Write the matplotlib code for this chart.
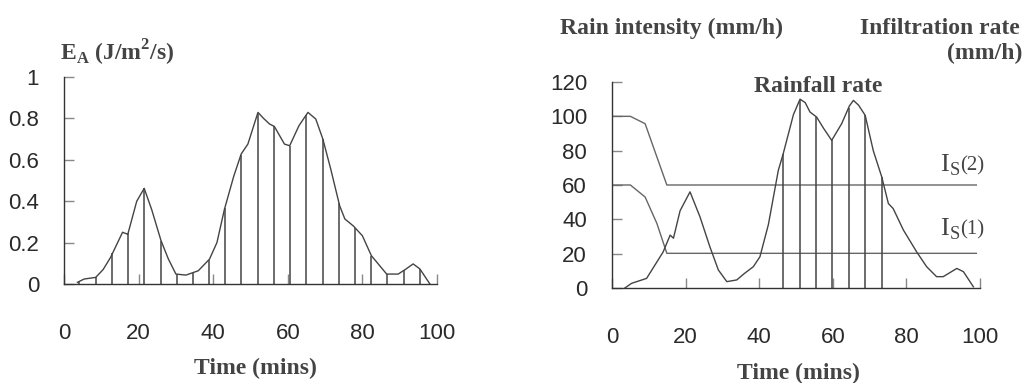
import matplotlib
matplotlib.use('Agg')
import matplotlib.pyplot as plt
import numpy as np

# left panel: kinetic energy of rain E_A
ea_time = [3.6, 5.4, 8.5, 10.5, 12.5, 15.7, 17.1, 19.5, 21.5, 23.5, 26, 28, 30, 32.7, 36, 39,
           41, 43, 45.5, 47.5, 49.3, 52, 53.5, 55.1, 56.4, 59.1, 60.5, 63, 65.4, 67.5, 69.4,
           71.5, 73.9, 75.3, 77.6, 80, 82.4, 86.5, 89.6, 91.5, 93.6, 95.4, 98.1]
ea_value = [0.008, 0.024, 0.032, 0.07, 0.129, 0.25, 0.24, 0.40, 0.462, 0.36, 0.21, 0.12, 0.048,
            0.043, 0.064, 0.12, 0.2, 0.36, 0.52, 0.628, 0.676, 0.829, 0.80, 0.773, 0.761, 0.676,
            0.668, 0.765, 0.829, 0.797, 0.70, 0.556, 0.378, 0.314, 0.28, 0.233, 0.137, 0.048,
            0.048, 0.07, 0.097, 0.073, 0.0]
ea_hatch = [4.0, 8.5, 13.0, 17.2, 21.5, 26, 30.3, 34.5, 38.8, 43.1, 47.4, 51.9, 56.4, 60.5,
            65, 69.4, 73.7, 78.1, 82.4, 86.7, 91.1, 95.4]

# right panel: rainfall rate and infiltration capacities
rain_time = [3.5, 5.3, 9.4, 13.9, 15.8, 16.7, 18.5, 21.2, 23.9, 26.6, 28.9, 31.2, 33.9, 36, 38.4,
             40.2, 42.5, 45.2, 46.5, 49.3, 51.1, 52.5, 53.8, 55.6, 57.5, 59.7, 62.4, 64.5, 65.6,
             67, 68.8, 71, 73.3, 75.1, 76.4, 79.2, 82.8, 85.5, 88.2, 90, 93.7, 95.5, 98.2]
rain_rate = [0, 2.7, 5.6, 21, 30.8, 29, 45, 56, 41.5, 24, 10.5, 3.7, 4.7, 8.5, 12.4,
             18.2, 37, 68.6, 78, 101, 110, 108, 102.5, 99.6, 93, 86, 95.7, 106, 109.3,
             106.5, 100.6, 80, 64.7, 49.2, 46.3, 33.7, 21, 12.4, 6.6, 6.6, 11.4, 9.5, 0.7]
rain_hatch = [46.5, 51, 55.5, 59.8, 64.3, 68.8, 73.3]

is2_time = [0, 5, 9, 14.9, 99]
is2_rate = [100, 100, 95.7, 60, 60]
is1_time = [0, 5, 9, 12.2, 14.9, 99]
is1_rate = [60, 60, 53, 37.6, 20.2, 20.2]

W, H = 1026, 383
fig = plt.figure(figsize=(W / 100, H / 100), dpi=100)

ink = '#333333'
serif = dict(family='Liberation Serif', weight='bold', color='#444444')
tickfont = 'Liberation Sans'


def style(ax, ylim, yticks, ylabels):
    for s in ['top', 'right']:
        ax.spines[s].set_visible(False)
    for s in ['left', 'bottom']:
        ax.spines[s].set_color(ink)
        ax.spines[s].set_linewidth(1.0)
    ax.set_xlim(0, 100)
    ax.set_ylim(*ylim)
    ax.set_xticks([0, 20, 40, 60, 80, 100])
    ax.set_yticks(yticks)
    ax.set_yticklabels(ylabels)
    ax.tick_params(axis='both', direction='in', length=7, width=1, color='#888888',
                   labelsize=16, labelcolor='#2a2a2a')
    ax.tick_params(axis='x', pad=28)
    ax.tick_params(axis='y', pad=18)
    for lab in ax.get_xticklabels() + ax.get_yticklabels():
        lab.set_fontfamily(tickfont)


# left panel
ax1 = fig.add_axes([64 / W, (H - 284) / H, (437 - 64) / W, (284 - 77) / H])
ax1.patch.set_alpha(0)
ax1.plot(ea_time, ea_value, color='#444444', lw=1.0)
ax1.vlines(ea_hatch, 0, np.interp(ea_hatch, ea_time, ea_value), color='#444444', lw=1.1)
style(ax1, (0, 1), [0, 0.2, 0.4, 0.6, 0.8, 1], ['0', '0.2', '0.4', '0.6', '0.8', '1'])

# right panel
ax2 = fig.add_axes([612 / W, (H - 288) / H, (980 - 612) / W, (288 - 82) / H])
ax2.patch.set_alpha(0)
ax2.plot(is2_time, is2_rate, color='#666666', lw=1.0)
ax2.plot(is1_time, is1_rate, color='#666666', lw=1.0)
ax2.plot(rain_time, rain_rate, color='#444444', lw=1.0)
ax2.vlines(rain_hatch, 0, np.interp(rain_hatch, rain_time, rain_rate), color='#444444', lw=1.1)
style(ax2, (0, 120), [0, 20, 40, 60, 80, 100, 120],
      ['0', '20', '40', '60', '80', '100', '120'])

# texts
fig.text(60 / W, 1 - 53 / H, r'E$_\mathregular{A}$ (J/m$^\mathregular{2}$/s)', fontsize=17,
         va='center', ha='left', **serif)
fig.text(255 / W, 1 - 368 / H, 'Time (mins)', fontsize=17, ha='center', va='center', **serif)
fig.text(798 / W, 1 - 373 / H, 'Time (mins)', fontsize=17, ha='center', va='center', **serif)
fig.text(560 / W, 1 - 28 / H, 'Rain intensity (mm/h)', fontsize=17, ha='left', va='center', **serif)
fig.text(1020 / W, 1 - 28 / H, 'Infiltration rate', fontsize=17, ha='right', va='center', **serif)
fig.text(1022 / W, 1 - 53 / H, '(mm/h)', fontsize=17, ha='right', va='center', **serif)
fig.text(818 / W, 1 - 87 / H, 'Rainfall rate', fontsize=17, ha='center', va='center', **serif)
fig.text(940 / W, 1 - 172 / H, r'I$_\mathregular{S}$', fontsize=19, ha='left', va='baseline',
         family='Liberation Serif', color='#444444')
fig.text(960 / W, 1 - 170 / H, '(2)', fontsize=15, ha='left', va='baseline',
         family='Liberation Serif', color='#444444')
fig.text(940 / W, 1 - 236 / H, r'I$_\mathregular{S}$', fontsize=19, ha='left', va='baseline',
         family='Liberation Serif', color='#444444')
fig.text(960 / W, 1 - 234 / H, '(1)', fontsize=15, ha='left', va='baseline',
         family='Liberation Serif', color='#444444')

fig.savefig('out.png', dpi=100)
